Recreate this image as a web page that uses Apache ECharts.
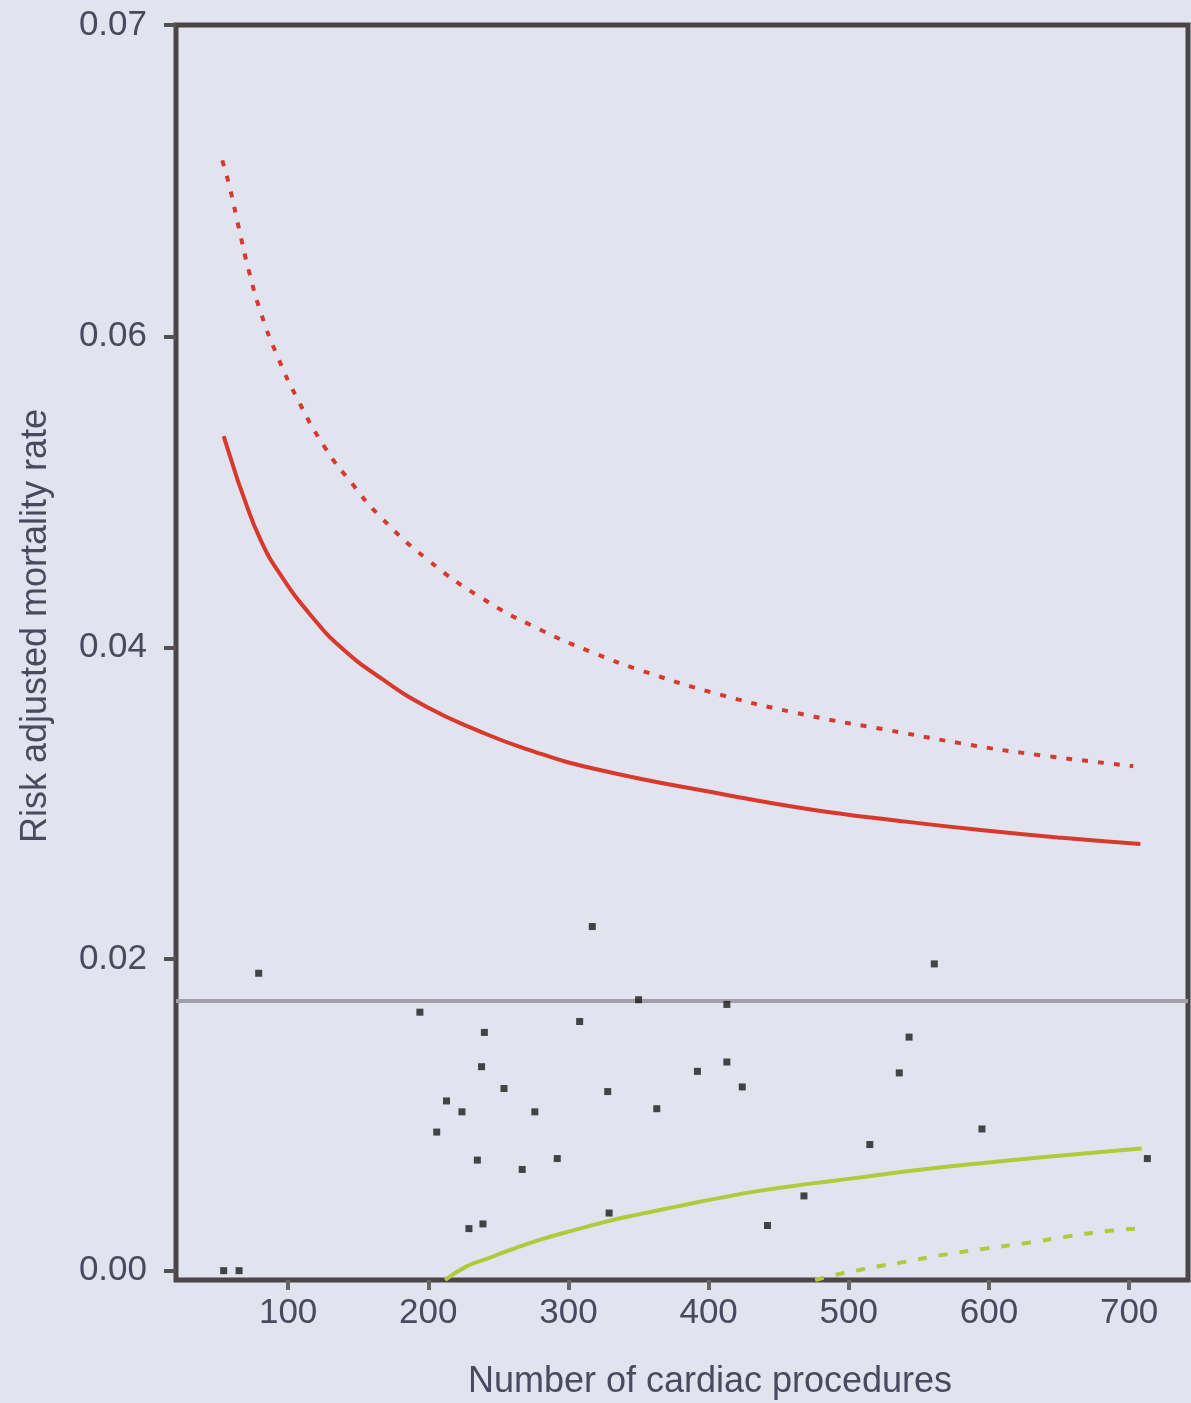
<!DOCTYPE html>
<html>
<head>
<meta charset="utf-8">
<style>
html,body{margin:0;padding:0;background:#e1e4ef;}
#chart{width:1191px;height:1403px;}
</style>
<script src="https://cdn.jsdelivr.net/npm/echarts@6/dist/echarts.min.js"></script>
</head>
<body>
<div id="chart"></div>
<script>
// ---- data ----
const xTickValues = [100, 200, 300, 400, 500, 600, 700];
const yTickValues = [0, 0.02, 0.04, 0.06, 0.08];
const yTickLabels = ['0.00', '0.02', '0.04', '0.06', '0.07'];

const benchmark = 0.01735;

// hospitals: [number of procedures, risk adjusted mortality rate]
const hospitals = [
  [54, 0.0], [65, 0.0], [79, 0.0191],
  [194, 0.0166], [206, 0.0089], [213, 0.0109], [224, 0.0102],
  [229, 0.0027], [235, 0.0071], [238, 0.0131], [239, 0.0030], [240, 0.0153],
  [254, 0.0117], [267, 0.0065], [276, 0.0102], [292, 0.0072],
  [308, 0.0160], [317, 0.0221], [328, 0.0115], [329, 0.0037],
  [350, 0.0174], [363, 0.0104], [392, 0.0128], [413, 0.0171],
  [413, 0.0134], [424, 0.0118], [442, 0.0029], [468, 0.0048],
  [515, 0.0081], [536, 0.0127], [543, 0.0150], [561, 0.0197],
  [595, 0.0091], [713, 0.0072]
];

// upper 95% limit (red solid)
const upper95 = [
  [54, 0.0536], [60, 0.0519], [67, 0.0500], [81, 0.0468], [96, 0.0445],
  [117, 0.0420], [138, 0.0400], [167, 0.0380], [199, 0.0362], [235, 0.0347],
  [270, 0.0335], [320, 0.0322], [410, 0.0306], [474, 0.0296], [535, 0.0289],
  [594, 0.0283], [652, 0.0278], [708, 0.0274]
];

// upper 99.8% limit (red dotted)
const upper998 = [
  [53, 0.0713], [58, 0.0697], [65, 0.0669], [72, 0.0642], [81, 0.0614],
  [92, 0.0588], [106, 0.0561], [126, 0.0529], [146, 0.0505], [166, 0.0484],
  [199, 0.0457], [238, 0.0432], [279, 0.0412], [320, 0.0396], [350, 0.0386],
  [408, 0.0370], [469, 0.0357], [529, 0.0347], [591, 0.0337], [637, 0.0331],
  [703, 0.0324]
];

// lower 95% limit (green solid)
const lower95 = [
  [212, -0.0006], [227, 0.00026], [242, 0.00077], [258, 0.00132], [280, 0.00199],
  [304, 0.0026], [327, 0.00315], [351, 0.00363], [377, 0.00411], [406, 0.00464],
  [437, 0.00514], [473, 0.00559], [501, 0.00591], [549, 0.00646], [596, 0.00692],
  [644, 0.00733], [692, 0.00771], [709, 0.00784]
];

// lower 99.8% limit (green dashed)
const lower998 = [
  [476, -0.0006], [489, -0.0003], [505, 0.0], [520, 0.00027], [536, 0.0005],
  [565, 0.00098], [596, 0.0014], [627, 0.00178], [658, 0.00222], [688, 0.00258],
  [705, 0.0027]
];

const FONT = '"Liberation Sans", Arial, sans-serif';
const TEXT = '#4a495e';
const AXIS = '#4a4546';

const chart = echarts.init(document.getElementById('chart'), null, {renderer: 'canvas'});
chart.setOption({
  backgroundColor: '#e1e4ef',
  animation: false,
  grid: {
    left: 176, right: 3, top: 25, bottom: 123,
    show: true, borderColor: AXIS, borderWidth: 5, backgroundColor: 'transparent'
  },
  xAxis: {
    type: 'value', min: 20, max: 742,
    axisLine: {show: false, onZero: false},
    splitLine: {show: false},
    axisTick: {show: true, length: 10, customValues: xTickValues,
      lineStyle: {color: '#6a6668', width: 4}},
    axisLabel: {show: true, customValues: xTickValues, margin: 16,
      fontFamily: FONT, fontSize: 35, color: TEXT}
  },
  yAxis: {
    type: 'value', min: -0.0006, max: 0.08,
    axisLine: {show: false, onZero: false},
    splitLine: {show: false},
    axisTick: {show: true, length: 12, customValues: yTickValues,
      lineStyle: {color: '#555051', width: 4}},
    axisLabel: {show: true, customValues: yTickValues, margin: 29,
      fontFamily: FONT, fontSize: 35, color: TEXT,
      formatter: function (v) {
        let best = 0;
        for (let i = 1; i < yTickValues.length; i++) {
          if (Math.abs(yTickValues[i] - v) < Math.abs(yTickValues[best] - v)) best = i;
        }
        return yTickLabels[best];
      }}
  },
  graphic: [
    {type: 'text', x: 710, y: 1382,
      style: {text: 'Number of cardiac procedures', fontFamily: FONT, fontSize: 36,
        fill: TEXT, align: 'center', verticalAlign: 'middle'}},
    {type: 'text', x: 36, y: 626, rotation: Math.PI / 2,
      style: {text: 'Risk adjusted mortality rate', fontFamily: FONT, fontSize: 36,
        fill: TEXT, align: 'center', verticalAlign: 'middle'}}
  ],
  series: [
    {type: 'line', data: upper95, smooth: true, showSymbol: false, symbol: 'none', z: 2,
      lineStyle: {color: '#d9382c', width: 4},
      markLine: {silent: true, symbol: 'none', precision: 6, label: {show: false},
        lineStyle: {color: '#a39fa9', width: 4, type: 'solid'},
        data: [{yAxis: benchmark}]}},
    {type: 'line', data: upper998, smooth: true, showSymbol: false, symbol: 'none', z: 2,
      lineStyle: {color: '#d9382c', width: 4, type: [6, 10]}},
    {type: 'line', data: lower95, smooth: true, showSymbol: false, symbol: 'none', z: 2,
      lineStyle: {color: '#b0ca3c', width: 4}},
    {type: 'line', data: lower998, smooth: true, showSymbol: false, symbol: 'none', z: 2,
      lineStyle: {color: '#b0ca3c', width: 4, type: [9, 12]}},
    {type: 'scatter', data: hospitals, symbol: 'rect', symbolSize: 7, z: 10,
      itemStyle: {color: '#1a1a1a'}}
  ]
});
</script>
</body>
</html>
